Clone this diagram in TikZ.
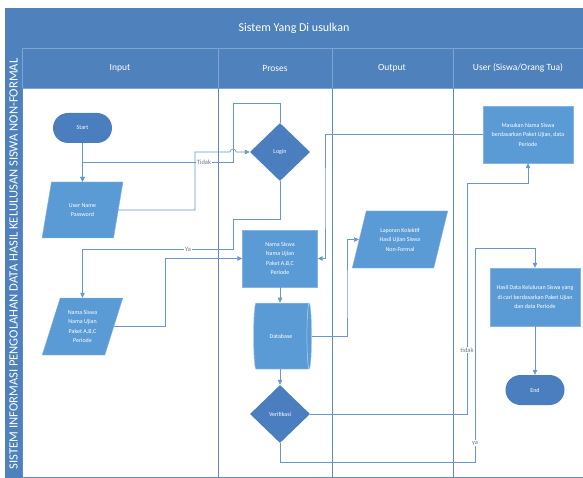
\documentclass[tikz,border=0pt]{standalone}
\usepackage{fontspec}
\setmainfont{Carlito}
\usetikzlibrary{shapes.geometric,shapes.misc,arrows.meta}
\definecolor{hdr}{RGB}{79,129,189}
\definecolor{hdrline}{RGB}{125,165,212}
\definecolor{boxfill}{RGB}{91,155,213}
\definecolor{darkfill}{RGB}{74,126,190}
\definecolor{conncol}{RGB}{105,150,205}
\definecolor{lanecol}{RGB}{95,137,192}
\definecolor{lblcol}{RGB}{110,120,135}
\begin{document}
\begin{tikzpicture}[x=1pt,y=-1pt,
  nodetext/.style={text=white,font=\fontsize{6}{9.5}\selectfont,align=center,inner sep=1pt},
  procbox/.style={nodetext,rectangle,fill=boxfill,draw=boxfill!75!white,line width=0.4pt},
  term/.style={nodetext,rounded rectangle,fill=darkfill,minimum width=61pt,minimum height=30pt},
  decis/.style={nodetext,diamond,fill=darkfill,minimum width=60pt,minimum height=58pt,inner sep=0pt},
  iobox/.style={nodetext,trapezium,trapezium stretches=true,fill=boxfill,draw=boxfill!75!white,line width=0.4pt},
  dbshape/.style={nodetext,cylinder,shape border rotate=0,aspect=0.75,cylinder uses custom fill,
     cylinder body fill=boxfill,cylinder end fill=boxfill,draw=boxfill!50!white,line width=0.5pt,
     minimum width=66pt,minimum height=58pt},
  connector/.style={draw=conncol,line width=0.6pt},
  arr/.style={connector,-{Triangle[length=5pt,width=4.5pt]}},
  lbl/.style={font=\fontsize{6.5}{7}\selectfont,text=lblcol,fill=white,inner sep=0.6pt},
  hdrtext/.style={text=white,font=\fontsize{9.5}{11}\selectfont},
  laneline/.style={draw=lanecol,line width=0.9pt},
]
\useasboundingbox (0,0) rectangle (583,478);
% header bands
\fill[hdr] (5,8) rectangle (583,88);
\fill[hdr] (5,88) rectangle (22,478);
\draw[hdrline,line width=0.6pt] (22,48) -- (583,48);
\draw[hdrline,line width=0.6pt] (22,48) -- (22,88);
\draw[hdrline,line width=0.6pt] (218,48) -- (218,88);
\draw[hdrline,line width=0.6pt] (332,48) -- (332,88);
\draw[hdrline,line width=0.6pt] (453,48) -- (453,88);
\draw[hdrline,line width=0.6pt] (22,88) -- (583,88);
\node[hdrtext,font=\fontsize{12}{14}\selectfont] (title) at (294,28) {Sistem Yang Di usulkan};
\node[hdrtext] (hinput) at (120,68) {Input};
\node[hdrtext] (hproses) at (275,68) {Proses};
\node[hdrtext] (houtput) at (392,68) {Output};
\node[hdrtext] (huser) at (518,68) {User (Siswa/Orang Tua)};
\node[rotate=90,text=white,font=\fontsize{12.6}{13}\selectfont,inner sep=0pt] (side) at (13.5,264)
  {SISTEM INFORMASI PENGOLAHAN DATA HASIL KELULUSAN SISWA NON-FORMAL};
% lanes
\draw[laneline] (22,88) -- (22,478);
\draw[laneline] (218,88) -- (218,478);
\draw[laneline] (332,88) -- (332,478);
\draw[laneline] (453,88) -- (453,478);
\draw[laneline] (22,477) -- (583,477);
% nodes
\node[term] (start) at (82.5,128) {Start};
\node[iobox,trapezium left angle=74,trapezium right angle=106,minimum width=81pt,minimum height=56pt]
  (user) at (82.5,210) {User Name\\Password};
\node[iobox,trapezium left angle=70,trapezium right angle=110,minimum width=81pt,minimum height=57pt]
  (nama) at (82.5,326.5) {Nama Siswa\\Nama Ujian\\Paket A,B,C\\Periode};
\node[decis] (login) at (280,152) {Login};
\node[procbox,minimum width=75pt,minimum height=57pt] (proc) at (280,258.5)
  {Nama Siswa\\Nama Ujian\\Paket A,B,C\\Periode};
\node[dbshape] (db) at (281,336) {Database};
\node[decis] (ver) at (280,414) {Verifikasi};
\node[iobox,trapezium left angle=70.7,trapezium right angle=109.3,minimum width=96pt,minimum height=57pt]
  (lap) at (400,239.5) {Laporan Kolektif\\Hasil Ujian Siswa\\Non-Formal};
\node[procbox,minimum width=90pt,minimum height=57pt] (mas) at (528,134.5)
  {Masukan Nama Siswa\\berdasarkan Paket Ujian, data\\Periode};
\node[procbox,minimum width=90pt,minimum height=58pt] (hasil) at (535,297)
  {Hasil Data Kelulusan Siswa yang\\di cari berdasarkan Paket Ujian\\dan data Periode};
\node[term] (end) at (535,390) {End};
% coordinates
\coordinate (t1) at (233,103);
\coordinate (t2) at (233,162);
\coordinate (u1) at (195,152);
\coordinate (jmp) at (230,152);
\coordinate (y1) at (233,219);
\coordinate (y2) at (233,249);
\coordinate (n1) at (165,258.5);
\coordinate (d1) at (347,300);
\coordinate (m1) at (325,200);
\coordinate (v1) at (467,183);
\coordinate (w1) at (475,462);
\coordinate (w2) at (475,248);
% connectors
\draw[arr] (start.south) -- (user.north);
\draw[arr] (login.north) |- (t1) -- (t2) -| (user.north);
\draw[arr] (user.east) -| (u1) -- (jmp) arc[start angle=180,end angle=360,radius=3] -- (login.west);
\draw[arr] (login.south) |- (y1) -- (y2) -| (nama.north);
\draw[arr] (nama.east) -| (n1) -- (proc.west);
\draw[arr] (proc.south) -- (proc.south |- db.north);
\draw[arr] (db.east) -| (d1) |- (lap.west);
\draw[arr] (mas.west) -| (m1) |- (proc.east);
\draw[arr] (ver.north |- db.south) -- (ver.north);
\draw[arr] (ver.east) -| (v1) -| (mas.south);
\draw[arr] (ver.south) |- (w1) -- (w2) -| (hasil.north);
\draw[arr] (hasil.south) -- (end.north);
% labels
\node[lbl] (ltidak) at (204,162) {Tidak};
\node[lbl] (lya) at (188,249) {Ya};
\node[lbl] (ltidak2) at (467,350) {tidak};
\node[lbl] (lya2) at (475,443) {ya};
\end{tikzpicture}
\end{document}
